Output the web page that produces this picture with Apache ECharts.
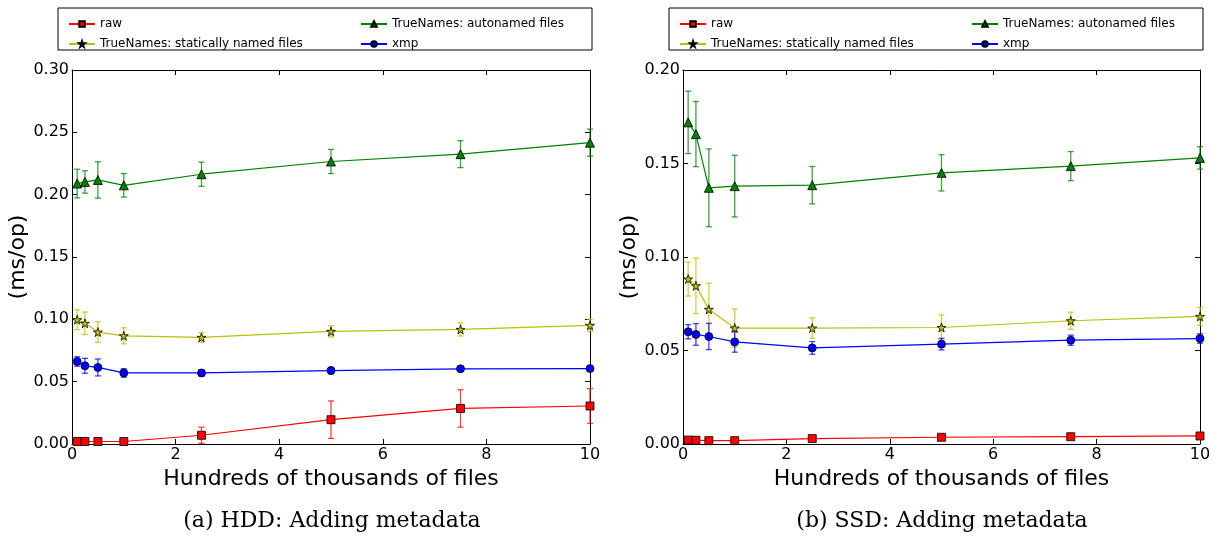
<!DOCTYPE html>
<html>
<head>
<meta charset="utf-8">
<script src="https://cdn.jsdelivr.net/npm/echarts@6/dist/echarts.min.js"></script>
<style>
  html, body { margin: 0; padding: 0; background: #fff; }
  #chart { width: 1215px; height: 540px; }
</style>
</head>
<body>
<div id="chart"></div>
<script>
// x positions (hundreds of thousands of files)
const files = [0.1, 0.25, 0.5, 1, 2.5, 5, 7.5, 10];

// HDD panel
const hddRaw = [0.002, 0.002, 0.002, 0.002, 0.007, 0.0195, 0.0285, 0.0305];
const hddRawErr = [0.001, 0.001, 0.001, 0.001, 0.0065, 0.015, 0.015, 0.014];
const hddStatic = [0.0997, 0.0968, 0.0898, 0.0868, 0.0855, 0.0903, 0.0919, 0.0952];
const hddStaticErr = [0.008, 0.009, 0.0083, 0.0064, 0.0038, 0.0045, 0.0052, 0.0048];
const hddAuto = [0.2089, 0.2102, 0.2118, 0.2075, 0.2164, 0.2266, 0.2325, 0.2417];
const hddAutoErr = [0.0115, 0.009, 0.0146, 0.0094, 0.0097, 0.0097, 0.0108, 0.0109];
const hddXmp = [0.0662, 0.0627, 0.0614, 0.057, 0.057, 0.0589, 0.0603, 0.0605];
const hddXmpErr = [0.0038, 0.006, 0.0068, 0.0034, 0.0026, 0.0026, 0.002, 0.0019];

// SSD panel
const ssdRaw = [0.0021, 0.002, 0.0018, 0.0018, 0.0029, 0.0036, 0.0039, 0.0043];
const ssdRawErr = [0.0005, 0.0005, 0.0005, 0.0005, 0.0005, 0.0006, 0.0006, 0.0006];
const ssdStatic = [0.0882, 0.0846, 0.072, 0.062, 0.062, 0.0623, 0.0659, 0.0682];
const ssdStaticErr = [0.0091, 0.0148, 0.014, 0.0101, 0.0055, 0.0067, 0.0046, 0.0048];
const ssdAuto = [0.172, 0.1657, 0.137, 0.1379, 0.1384, 0.145, 0.1486, 0.153];
const ssdAutoErr = [0.0167, 0.0174, 0.0208, 0.0165, 0.01, 0.0097, 0.0078, 0.006];
const ssdXmp = [0.06, 0.0586, 0.0575, 0.0546, 0.0514, 0.0534, 0.0555, 0.0564];
const ssdXmpErr = [0.0038, 0.0058, 0.007, 0.0055, 0.0034, 0.0031, 0.0027, 0.0025];

const names = ['raw', 'TrueNames: statically named files', 'TrueNames: autonamed files', 'xmp'];
const captions = ['(a) HDD: Adding metadata', '(b) SSD: Adding metadata'];

const starPath = 'path://M50,0 L61,35 L98,35 L68,57 L79,91 L50,70 L21,91 L32,57 L2,35 L39,35 Z';
const styles = [
    { color: '#ff0000', symbol: 'rect', size: 8 },
    { color: '#bfbf00', symbol: starPath, size: 9 },
    { color: '#008000', symbol: 'triangle', size: 9 },
    { color: '#0000ff', symbol: 'circle', size: 8 },
];

const panels = [
    { left: 72, width: 518, max: 0.3, vals: [hddRaw, hddStatic, hddAuto, hddXmp], errs: [hddRawErr, hddStaticErr, hddAutoErr, hddXmpErr], box: 58, leg2: 355, cap: 332 },
    { left: 683, width: 517, max: 0.2, vals: [ssdRaw, ssdStatic, ssdAuto, ssdXmp], errs: [ssdRawErr, ssdStaticErr, ssdAutoErr, ssdXmpErr], box: 669, leg2: 966, cap: 942 },
];

const font = 'DejaVu Sans';
const grid = [], xAxis = [], yAxis = [], series = [], legend = [], graphic = [];

panels.forEach((p, i) => {
    grid.push({ left: p.left, width: p.width, top: 70, height: 374 });
    const tickStyle = { show: true, inside: true, length: 5, lineStyle: { color: '#000' } };
    const lineStyle = { show: true, onZero: false, lineStyle: { color: '#000', width: 1 } };
    xAxis.push({
        type: 'value', gridIndex: i, min: 0, max: 10, interval: 2, position: 'bottom',
        name: 'Hundreds of thousands of files', nameLocation: 'middle', nameGap: 21,
        nameTextStyle: { fontFamily: font, fontSize: 22, color: '#000' },
        axisLine: lineStyle, axisTick: tickStyle, splitLine: { show: false },
        axisLabel: { fontFamily: font, fontSize: 16, color: '#000', margin: 3 },
    });
    xAxis.push({
        type: 'value', gridIndex: i, min: 0, max: 10, interval: 2, position: 'top',
        axisLine: lineStyle, axisTick: tickStyle, splitLine: { show: false }, axisLabel: { show: false },
    });
    yAxis.push({
        type: 'value', gridIndex: i, min: 0, max: p.max, interval: 0.05, position: 'left',
        name: '(ms/op)', nameLocation: 'middle', nameGap: 38, nameRotate: 90,
        nameTextStyle: { fontFamily: font, fontSize: 22, color: '#000' },
        axisLine: lineStyle, axisTick: tickStyle, splitLine: { show: false },
        axisLabel: { fontFamily: font, fontSize: 16, color: '#000', margin: 3, formatter: v => v.toFixed(2) },
    });
    yAxis.push({
        type: 'value', gridIndex: i, min: 0, max: p.max, interval: 0.05, position: 'right',
        axisLine: lineStyle, axisTick: tickStyle, splitLine: { show: false }, axisLabel: { show: false },
    });

    p.vals.forEach((vals, k) => {
        const st = styles[k];
        const errData = files.map((x, j) => [x, vals[j] - p.errs[k][j], vals[j] + p.errs[k][j]]);
        // error bars drawn as a custom series (named apart so the legend picks the line)
        series.push({
            type: 'custom', name: names[k] + ' (err)', xAxisIndex: i * 2, yAxisIndex: i * 2,
            data: errData, clip: false, z: 2 + k * 2, silent: true,
            renderItem: (params, api) => {
                const lo = api.coord([api.value(0), api.value(1)]);
                const hi = api.coord([api.value(0), api.value(2)]);
                const s = { stroke: st.color, lineWidth: 1.3, opacity: 0.75 };
                return {
                    type: 'group', children: [
                        { type: 'line', shape: { x1: lo[0], y1: lo[1], x2: hi[0], y2: hi[1] }, style: s },
                        { type: 'line', shape: { x1: lo[0] - 3, y1: lo[1], x2: lo[0] + 3, y2: lo[1] }, style: s },
                        { type: 'line', shape: { x1: hi[0] - 3, y1: hi[1], x2: hi[0] + 3, y2: hi[1] }, style: s },
                    ]
                };
            },
        });
        series.push({
            type: 'line', name: names[k], xAxisIndex: i * 2, yAxisIndex: i * 2,
            data: files.map((x, j) => [x, vals[j]]), clip: false, z: 3 + k * 2,
            symbol: st.symbol, symbolSize: st.size, showSymbol: true, animation: false,
            lineStyle: { color: st.color, width: 1.2 },
            itemStyle: { color: st.color, borderColor: '#000', borderWidth: 0.8 },
        });
    });

    const legText = { fontFamily: font, fontSize: 12, color: '#000', lineHeight: 14 };
    legend.push({ data: [names[0], names[1]], left: p.box + 5, top: 12, orient: 'vertical', itemGap: 6, itemWidth: 26, itemHeight: 7, textStyle: legText, selectedMode: false });
    legend.push({ data: [names[2], names[3]], left: p.leg2, top: 12, orient: 'vertical', itemGap: 6, itemWidth: 26, itemHeight: 7, textStyle: legText, selectedMode: false });
    graphic.push({ type: 'rect', shape: { x: p.box, y: 8, width: 534, height: 42 }, style: { fill: 'none', stroke: '#000', lineWidth: 1 } });
    graphic.push({ type: 'text', x: p.cap, y: 521, style: { text: captions[i], font: '22px "DejaVu Serif"', fill: '#000', align: 'center', verticalAlign: 'middle', textAlign: 'center', textVerticalAlign: 'middle' } });
});

const chart = echarts.init(document.getElementById('chart'));
chart.setOption({
    animation: false,
    grid, xAxis, yAxis, series, legend, graphic,
});
</script>
</body>
</html>
